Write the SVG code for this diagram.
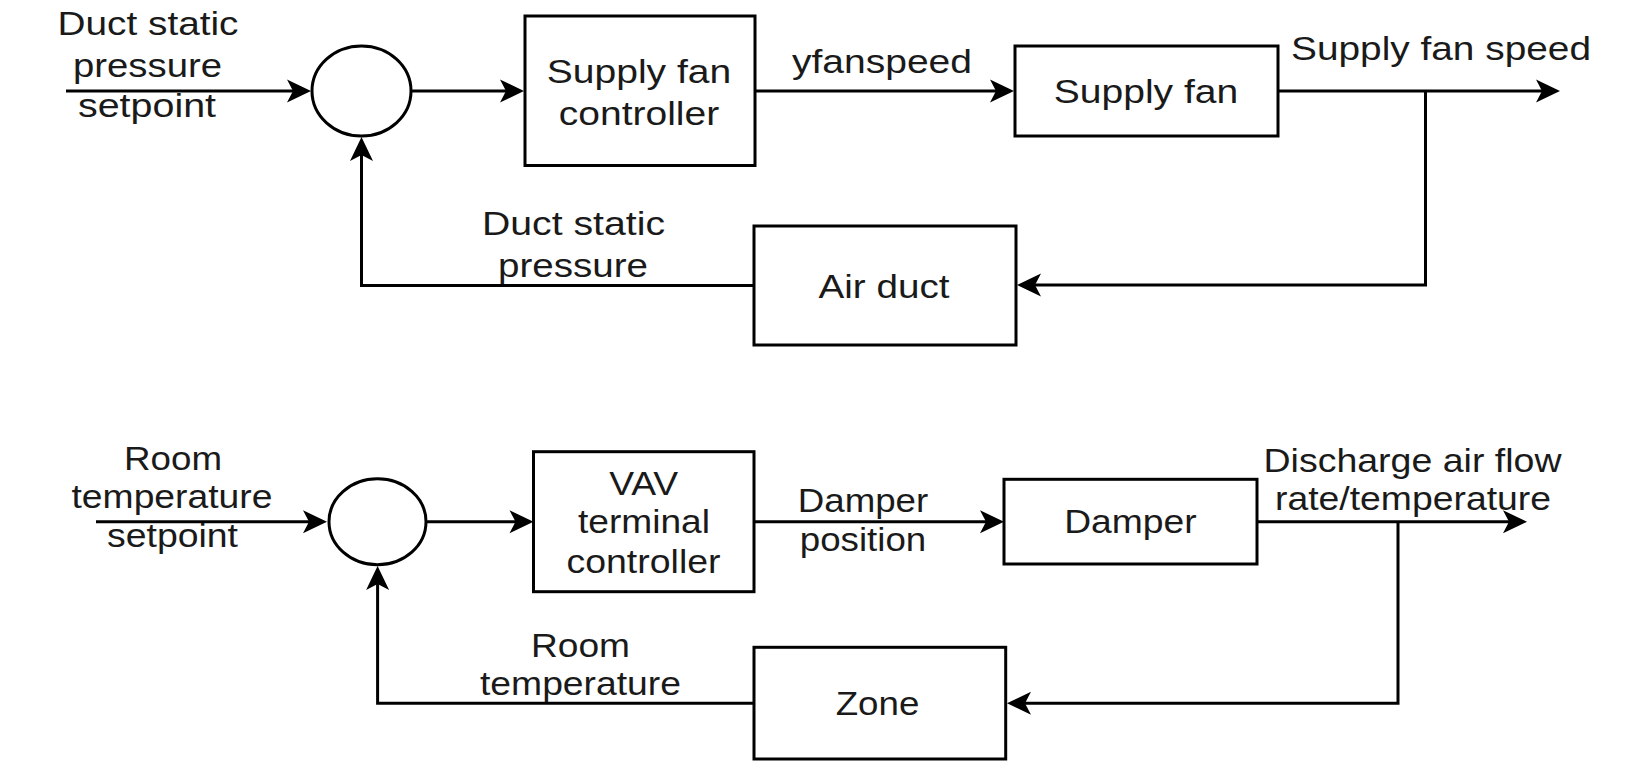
<svg xmlns="http://www.w3.org/2000/svg" width="1639" height="761" viewBox="0 0 1639 761">
  <style>
    .box { fill: #ffffff; stroke: #000000; stroke-width: 3; }
    .sum { fill: #ffffff; stroke: #000000; stroke-width: 3; }
    .wire { fill: none; stroke: #000000; stroke-width: 3; marker-end: url(#arr); }
    text { font-family: "Liberation Sans", Arial, sans-serif; font-size: 34px; fill: #1a1a1a; text-anchor: middle; }
  </style>
  <defs>
    <marker id="arr" viewBox="-16 -13 28 26" refX="0" refY="0" markerWidth="28" markerHeight="26" markerUnits="userSpaceOnUse" orient="auto">
      <path d="M10,0 L-14,-11.5 L-8,0 L-14,11.5 Z" fill="#000000"/>
    </marker>
  </defs>
  <rect width="1639" height="761" fill="#ffffff"/>

  <g id="connectors">
    <path class="wire" d="M66,91 H301"/>
    <path class="wire" d="M411,91 H514"/>
    <path class="wire" d="M755,91 H1004"/>
    <path class="wire" d="M1278,91 H1550"/>
    <path class="wire" d="M1425.5,91 V285 H1027"/>
    <path class="wire" d="M754,285.5 H361.5 V147"/>

    <path class="wire" d="M96,521.7 H317"/>
    <path class="wire" d="M426,521.7 H523.5"/>
    <path class="wire" d="M754,521.7 H994"/>
    <path class="wire" d="M1257,521.7 H1517"/>
    <path class="wire" d="M1398,521.7 V703.3 H1017"/>
    <path class="wire" d="M754,703.3 H377.6 V576"/>
  </g>

  <g id="labels">
    <text x="148" y="35" textLength="181" lengthAdjust="spacingAndGlyphs">Duct static</text>
    <text x="147.5" y="77" textLength="149" lengthAdjust="spacingAndGlyphs">pressure</text>
    <text x="147" y="117" textLength="138" lengthAdjust="spacingAndGlyphs">setpoint</text>
    <text x="882" y="73" textLength="180" lengthAdjust="spacingAndGlyphs">yfanspeed</text>
    <text x="1441" y="60" textLength="300" lengthAdjust="spacingAndGlyphs">Supply fan speed</text>
    <text x="573.5" y="235" textLength="183" lengthAdjust="spacingAndGlyphs">Duct static</text>
    <text x="573" y="277" textLength="150" lengthAdjust="spacingAndGlyphs">pressure</text>

    <text x="173" y="470" textLength="98" lengthAdjust="spacingAndGlyphs">Room</text>
    <text x="172" y="508" textLength="201" lengthAdjust="spacingAndGlyphs">temperature</text>
    <text x="172.5" y="546.7" textLength="131" lengthAdjust="spacingAndGlyphs">setpoint</text>
    <text x="863" y="511.7" textLength="130.5" lengthAdjust="spacingAndGlyphs">Damper</text>
    <text x="863" y="550.7" textLength="126.5" lengthAdjust="spacingAndGlyphs">position</text>
    <text x="1412.5" y="471.7" textLength="298" lengthAdjust="spacingAndGlyphs">Discharge air flow</text>
    <text x="1413" y="510" textLength="276" lengthAdjust="spacingAndGlyphs">rate/temperature</text>
    <text x="580.5" y="656.7" textLength="99" lengthAdjust="spacingAndGlyphs">Room</text>
    <text x="580.5" y="695" textLength="201" lengthAdjust="spacingAndGlyphs">temperature</text>
  </g>

  <g id="sum1"><ellipse class="sum" cx="361.5" cy="91" rx="49.5" ry="45"/></g>
  <g id="supply-fan-controller">
    <rect class="box" x="525" y="16" width="230" height="149.5"/>
    <text x="639" y="83" textLength="184.5" lengthAdjust="spacingAndGlyphs">Supply fan</text>
    <text x="639" y="125" textLength="160.5" lengthAdjust="spacingAndGlyphs">controller</text>
  </g>
  <g id="supply-fan">
    <rect class="box" x="1015" y="46" width="263" height="90"/>
    <text x="1146" y="103" textLength="184.5" lengthAdjust="spacingAndGlyphs">Supply fan</text>
  </g>
  <g id="air-duct">
    <rect class="box" x="754" y="226" width="262" height="119"/>
    <text x="884" y="298" textLength="131" lengthAdjust="spacingAndGlyphs">Air duct</text>
  </g>

  <g id="sum2"><ellipse class="sum" cx="377.5" cy="521.7" rx="48.5" ry="43"/></g>
  <g id="vav-terminal-controller">
    <rect class="box" x="533.5" y="451.7" width="220.5" height="140"/>
    <text x="643.7" y="495" textLength="69" lengthAdjust="spacingAndGlyphs">VAV</text>
    <text x="644" y="533" textLength="132" lengthAdjust="spacingAndGlyphs">terminal</text>
    <text x="643.5" y="573" textLength="154" lengthAdjust="spacingAndGlyphs">controller</text>
  </g>
  <g id="damper">
    <rect class="box" x="1004" y="479.3" width="253" height="84.7"/>
    <text x="1130.4" y="533.3" textLength="132.5" lengthAdjust="spacingAndGlyphs">Damper</text>
  </g>
  <g id="zone">
    <rect class="box" x="754" y="647.3" width="251.7" height="111.7"/>
    <text x="877.5" y="715" textLength="83.7" lengthAdjust="spacingAndGlyphs">Zone</text>
  </g>
</svg>
